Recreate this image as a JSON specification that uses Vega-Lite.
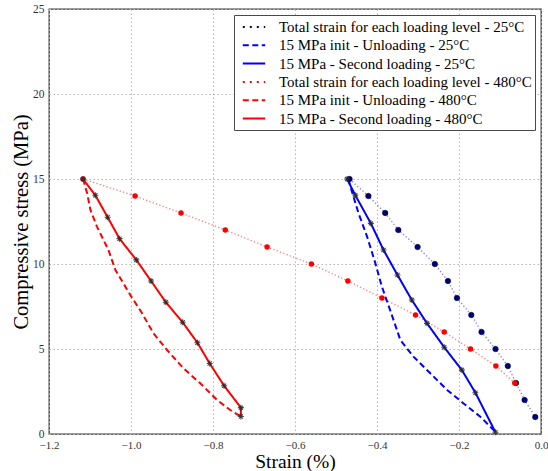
{
  "$schema": "https://vega.github.io/schema/vega-lite/v6.json",
  "width": 492,
  "height": 425,
  "autosize": {"type": "none"},
  "padding": {"left": 49, "top": 9, "right": 7, "bottom": 37},
  "background": "white",
  "config": {
    "font": "Liberation Serif",
    "view": {"stroke": "#3a3a3a", "strokeWidth": 1.3},
    "axis": {
      "grid": true,
      "gridColor": "#b5b5b5",
      "gridDash": [1.5, 2.5],
      "gridWidth": 1,
      "domain": false,
      "ticks": false,
      "labelFont": "Liberation Serif",
      "labelFontSize": 11.5,
      "labelColor": "#333333",
      "titleFont": "Liberation Serif",
      "titleFontSize": 20.5,
      "titleFontWeight": "normal",
      "titleColor": "#000000"
    },
    "legend": {
      "labelFont": "Liberation Serif",
      "labelFontSize": 15,
      "labelColor": "#000000",
      "labelLimit": 400
    }
  },
  "datasets": {
    "curves": [
      {"series": "Total strain for each loading level - 25°C", "i": 1, "strain": -0.467, "stress": 15},
      {"series": "Total strain for each loading level - 25°C", "i": 2, "strain": -0.421, "stress": 14},
      {"series": "Total strain for each loading level - 25°C", "i": 3, "strain": -0.380, "stress": 13},
      {"series": "Total strain for each loading level - 25°C", "i": 4, "strain": -0.348, "stress": 12},
      {"series": "Total strain for each loading level - 25°C", "i": 5, "strain": -0.301, "stress": 11},
      {"series": "Total strain for each loading level - 25°C", "i": 6, "strain": -0.259, "stress": 10},
      {"series": "Total strain for each loading level - 25°C", "i": 7, "strain": -0.227, "stress": 9},
      {"series": "Total strain for each loading level - 25°C", "i": 8, "strain": -0.205, "stress": 8},
      {"series": "Total strain for each loading level - 25°C", "i": 9, "strain": -0.170, "stress": 7},
      {"series": "Total strain for each loading level - 25°C", "i": 10, "strain": -0.145, "stress": 6},
      {"series": "Total strain for each loading level - 25°C", "i": 11, "strain": -0.111, "stress": 5},
      {"series": "Total strain for each loading level - 25°C", "i": 12, "strain": -0.081, "stress": 4},
      {"series": "Total strain for each loading level - 25°C", "i": 13, "strain": -0.061, "stress": 3},
      {"series": "Total strain for each loading level - 25°C", "i": 14, "strain": -0.040, "stress": 2},
      {"series": "Total strain for each loading level - 25°C", "i": 15, "strain": -0.014, "stress": 1},

      {"series": "15 MPa init - Unloading - 25°C", "i": 1, "strain": -0.470, "stress": 15},
      {"series": "15 MPa init - Unloading - 25°C", "i": 2, "strain": -0.461, "stress": 14.25},
      {"series": "15 MPa init - Unloading - 25°C", "i": 3, "strain": -0.445, "stress": 12.98},
      {"series": "15 MPa init - Unloading - 25°C", "i": 4, "strain": -0.424, "stress": 11.6},
      {"series": "15 MPa init - Unloading - 25°C", "i": 5, "strain": -0.404, "stress": 10.04},
      {"series": "15 MPa init - Unloading - 25°C", "i": 6, "strain": -0.388, "stress": 8.66},
      {"series": "15 MPa init - Unloading - 25°C", "i": 7, "strain": -0.368, "stress": 7.29},
      {"series": "15 MPa init - Unloading - 25°C", "i": 8, "strain": -0.343, "stress": 5.53},
      {"series": "15 MPa init - Unloading - 25°C", "i": 9, "strain": -0.311, "stress": 4.55},
      {"series": "15 MPa init - Unloading - 25°C", "i": 10, "strain": -0.270, "stress": 3.57},
      {"series": "15 MPa init - Unloading - 25°C", "i": 11, "strain": -0.229, "stress": 2.59},
      {"series": "15 MPa init - Unloading - 25°C", "i": 12, "strain": -0.189, "stress": 1.8},
      {"series": "15 MPa init - Unloading - 25°C", "i": 13, "strain": -0.148, "stress": 1.02},
      {"series": "15 MPa init - Unloading - 25°C", "i": 14, "strain": -0.116, "stress": 0.24},
      {"series": "15 MPa init - Unloading - 25°C", "i": 15, "strain": -0.111, "stress": 0.1},

      {"series": "15 MPa - Second loading - 25°C", "i": 1, "strain": -0.111, "stress": 0.1},
      {"series": "15 MPa - Second loading - 25°C", "i": 2, "strain": -0.160, "stress": 2.43},
      {"series": "15 MPa - Second loading - 25°C", "i": 3, "strain": -0.193, "stress": 3.76},
      {"series": "15 MPa - Second loading - 25°C", "i": 4, "strain": -0.236, "stress": 5.1},
      {"series": "15 MPa - Second loading - 25°C", "i": 5, "strain": -0.278, "stress": 6.51},
      {"series": "15 MPa - Second loading - 25°C", "i": 6, "strain": -0.315, "stress": 7.88},
      {"series": "15 MPa - Second loading - 25°C", "i": 7, "strain": -0.350, "stress": 9.35},
      {"series": "15 MPa - Second loading - 25°C", "i": 8, "strain": -0.384, "stress": 10.82},
      {"series": "15 MPa - Second loading - 25°C", "i": 9, "strain": -0.415, "stress": 12.39},
      {"series": "15 MPa - Second loading - 25°C", "i": 10, "strain": -0.453, "stress": 14.05},
      {"series": "15 MPa - Second loading - 25°C", "i": 11, "strain": -0.473, "stress": 15},

      {"series": "Total strain for each loading level - 480°C", "i": 1, "strain": -1.117, "stress": 15},
      {"series": "Total strain for each loading level - 480°C", "i": 2, "strain": -0.990, "stress": 14},
      {"series": "Total strain for each loading level - 480°C", "i": 3, "strain": -0.878, "stress": 13},
      {"series": "Total strain for each loading level - 480°C", "i": 4, "strain": -0.770, "stress": 12},
      {"series": "Total strain for each loading level - 480°C", "i": 5, "strain": -0.668, "stress": 11},
      {"series": "Total strain for each loading level - 480°C", "i": 6, "strain": -0.560, "stress": 10},
      {"series": "Total strain for each loading level - 480°C", "i": 7, "strain": -0.471, "stress": 9},
      {"series": "Total strain for each loading level - 480°C", "i": 8, "strain": -0.388, "stress": 8},
      {"series": "Total strain for each loading level - 480°C", "i": 9, "strain": -0.306, "stress": 7},
      {"series": "Total strain for each loading level - 480°C", "i": 10, "strain": -0.236, "stress": 6},
      {"series": "Total strain for each loading level - 480°C", "i": 11, "strain": -0.172, "stress": 5},
      {"series": "Total strain for each loading level - 480°C", "i": 12, "strain": -0.110, "stress": 4},
      {"series": "Total strain for each loading level - 480°C", "i": 13, "strain": -0.064, "stress": 3},

      {"series": "15 MPa init - Unloading - 480°C", "i": 1, "strain": -1.117, "stress": 15},
      {"series": "15 MPa init - Unloading - 480°C", "i": 2, "strain": -1.107, "stress": 14.16},
      {"series": "15 MPa init - Unloading - 480°C", "i": 3, "strain": -1.099, "stress": 13.18},
      {"series": "15 MPa init - Unloading - 480°C", "i": 4, "strain": -1.083, "stress": 12.2},
      {"series": "15 MPa init - Unloading - 480°C", "i": 5, "strain": -1.055, "stress": 10.82},
      {"series": "15 MPa init - Unloading - 480°C", "i": 6, "strain": -1.038, "stress": 9.65},
      {"series": "15 MPa init - Unloading - 480°C", "i": 7, "strain": -1.001, "stress": 8.15},
      {"series": "15 MPa init - Unloading - 480°C", "i": 8, "strain": -0.973, "stress": 7.1},
      {"series": "15 MPa init - Unloading - 480°C", "i": 9, "strain": -0.945, "stress": 5.92},
      {"series": "15 MPa init - Unloading - 480°C", "i": 10, "strain": -0.912, "stress": 4.94},
      {"series": "15 MPa init - Unloading - 480°C", "i": 11, "strain": -0.872, "stress": 3.86},
      {"series": "15 MPa init - Unloading - 480°C", "i": 12, "strain": -0.831, "stress": 2.98},
      {"series": "15 MPa init - Unloading - 480°C", "i": 13, "strain": -0.790, "stress": 2.0},
      {"series": "15 MPa init - Unloading - 480°C", "i": 14, "strain": -0.758, "stress": 1.41},
      {"series": "15 MPa init - Unloading - 480°C", "i": 15, "strain": -0.732, "stress": 1.03},

      {"series": "15 MPa - Second loading - 480°C", "i": 1, "strain": -0.732, "stress": 1.03},
      {"series": "15 MPa - Second loading - 480°C", "i": 2, "strain": -0.732, "stress": 1.55},
      {"series": "15 MPa - Second loading - 480°C", "i": 3, "strain": -0.773, "stress": 2.84},
      {"series": "15 MPa - Second loading - 480°C", "i": 4, "strain": -0.808, "stress": 4.15},
      {"series": "15 MPa - Second loading - 480°C", "i": 5, "strain": -0.838, "stress": 5.37},
      {"series": "15 MPa - Second loading - 480°C", "i": 6, "strain": -0.874, "stress": 6.57},
      {"series": "15 MPa - Second loading - 480°C", "i": 7, "strain": -0.915, "stress": 7.75},
      {"series": "15 MPa - Second loading - 480°C", "i": 8, "strain": -0.951, "stress": 9.0},
      {"series": "15 MPa - Second loading - 480°C", "i": 9, "strain": -0.987, "stress": 10.24},
      {"series": "15 MPa - Second loading - 480°C", "i": 10, "strain": -1.028, "stress": 11.49},
      {"series": "15 MPa - Second loading - 480°C", "i": 11, "strain": -1.057, "stress": 12.75},
      {"series": "15 MPa - Second loading - 480°C", "i": 12, "strain": -1.087, "stress": 14.04},
      {"series": "15 MPa - Second loading - 480°C", "i": 13, "strain": -1.117, "stress": 15}
    ]
  },
  "data": {"name": "curves"},
  "encoding": {
    "x": {
      "field": "strain",
      "type": "quantitative",
      "scale": {"domain": [-1.2, 0], "nice": false, "zero": false},
      "axis": {
        "title": "Strain (%)",
        "values": [-1.2, -1.0, -0.8, -0.6, -0.4, -0.2, 0.0],
        "format": ".1f",
        "labelFlush": false,
        "labelFontSize": 11,
        "labelPadding": 5.5,
        "titleFontSize": 19.5,
        "titlePadding": 1.5
      }
    },
    "y": {
      "field": "stress",
      "type": "quantitative",
      "scale": {"domain": [0, 25], "nice": false},
      "axis": {
        "title": "Compressive stress (MPa)",
        "values": [0, 5, 10, 15, 20, 25],
        "format": "d",
        "labelPadding": 5,
        "titlePadding": 1
      }
    }
  },
  "layer": [
    {
      "transform": [{"filter": "datum.series == 'Total strain for each loading level - 25°C'"}],
      "mark": {"type": "line", "color": "#3030ff", "strokeWidth": 1.4, "strokeDash": [1.3, 2.2], "opacity": 0.6},
      "encoding": {"order": {"field": "i"}}
    },
    {
      "transform": [{"filter": "datum.series == 'Total strain for each loading level - 480°C'"}],
      "mark": {"type": "line", "color": "#ff3030", "strokeWidth": 1.4, "strokeDash": [1.3, 2.2], "opacity": 0.6},
      "encoding": {"order": {"field": "i"}}
    },
    {
      "transform": [{"filter": "indexof(datum.series, 'Total strain') < 0"}],
      "mark": {"type": "line", "strokeWidth": 2},
      "encoding": {
        "order": {"field": "i"},
        "color": {
          "field": "series",
          "type": "nominal",
          "scale": {
            "domain": [
              "Total strain for each loading level - 25°C",
              "15 MPa init - Unloading - 25°C",
              "15 MPa - Second loading - 25°C",
              "Total strain for each loading level - 480°C",
              "15 MPa init - Unloading - 480°C",
              "15 MPa - Second loading - 480°C"
            ],
            "range": ["#00006e", "#0000ff", "#0000ff", "#ff0000", "#ff0000", "#ff0000"]
          },
          "legend": {
            "title": null,
            "orient": "top-right",
            "offset": 6,
            "symbolType": "M-1.4,0L1.4,0",
            "symbolSize": 256,
            "symbolStrokeWidth": 2,
            "symbolOffset": 8,
            "rowPadding": 1.3,
            "labelOffset": 16,
            "padding": 3,
            "fillColor": "white",
            "strokeColor": "#4a4a4a",
            "cornerRadius": 0
          }
        },
        "strokeDash": {
          "field": "series",
          "type": "nominal",
          "scale": {
            "domain": [
              "Total strain for each loading level - 25°C",
              "15 MPa init - Unloading - 25°C",
              "15 MPa - Second loading - 25°C",
              "Total strain for each loading level - 480°C",
              "15 MPa init - Unloading - 480°C",
              "15 MPa - Second loading - 480°C"
            ],
            "range": [[2, 5], [6, 3.5], [1, 0], [2, 5], [6, 3.5], [1, 0]]
          },
          "legend": {
            "title": null,
            "orient": "top-right",
            "offset": 6,
            "symbolType": "M-1.4,0L1.4,0",
            "symbolSize": 256,
            "symbolStrokeWidth": 2,
            "symbolOffset": 8,
            "rowPadding": 1.3,
            "labelOffset": 16,
            "padding": 3,
            "fillColor": "white",
            "strokeColor": "#4a4a4a",
            "cornerRadius": 0
          }
        }
      }
    },
    {
      "transform": [{"filter": "datum.series == 'Total strain for each loading level - 25°C'"}],
      "mark": {"type": "point", "shape": "circle", "filled": true, "size": 30, "color": "#00007a", "stroke": "#000033", "strokeWidth": 0.6, "opacity": 1}
    },
    {
      "transform": [{"filter": "datum.series == 'Total strain for each loading level - 480°C'"}],
      "mark": {"type": "point", "shape": "circle", "filled": true, "size": 30, "color": "#ff0000", "opacity": 1}
    },
    {
      "transform": [{"filter": "indexof(datum.series, 'Second loading') >= 0"}],
      "mark": {
        "type": "point",
        "shape": "M0,-1L0,1M-1,0L1,0M-0.7,-0.7L0.7,0.7M-0.7,0.7L0.7,-0.7",
        "filled": false,
        "size": 36,
        "color": "#2a2a2a",
        "strokeWidth": 1.1,
        "opacity": 0.85
      }
    }
  ]
}
